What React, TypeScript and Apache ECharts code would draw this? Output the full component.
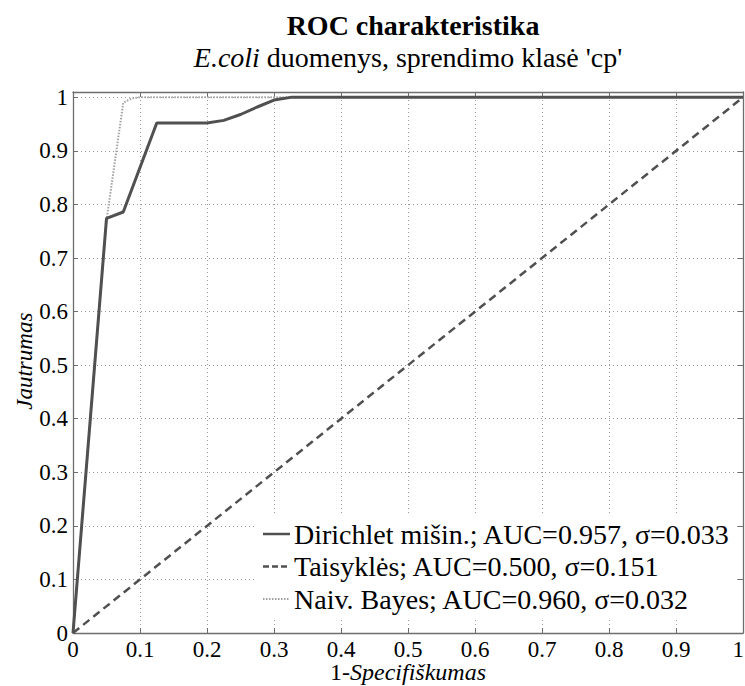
import React, { useEffect, useRef } from "react";
import * as echarts from "echarts";

// Dirichlet mixture ROC curve
const dirFpr = [0, 0.05, 0.075, 0.1, 0.125, 0.2, 0.225, 0.25, 0.275, 0.3, 0.325, 1];
const dirTpr = [0, 0.774, 0.786, 0.869, 0.952, 0.952, 0.957, 0.968, 0.982, 0.995, 1, 1];
// Rules (diagonal)
const ruleFpr = [0, 1];
const ruleTpr = [0, 1];
// Naive Bayes ROC curve
const nbFpr = [0, 0.05, 0.075, 0.0875, 0.1, 1];
const nbTpr = [0, 0.77, 0.99, 0.998, 1, 1];

const seriesNames = [
  "Dirichlet mišin.; AUC=0.957, σ=0.033",
  "Taisyklės; AUC=0.500, σ=0.151",
  "Naiv. Bayes; AUC=0.960, σ=0.032",
];

const tickValues = [0, 0.1, 0.2, 0.3, 0.4, 0.5, 0.6, 0.7, 0.8, 0.9, 1];
const tickLabels = ["0", "0.1", "0.2", "0.3", "0.4", "0.5", "0.6", "0.7", "0.8", "0.9", "1"];

const titleText = "ROC charakteristika";
const subtitleItalic = "E.coli";
const subtitleRest = "duomenys, sprendimo klasė 'cp'";
const xNamePlain = "1-";
const xNameItalic = "Specifiškumas";
const yName = "Jautrumas";

const zip = (xs: number[], ys: number[]) => xs.map((x, i) => [x, ys[i]]);

const FONT = "Liberation Serif";

export default function App() {
  const ref = useRef<HTMLDivElement>(null);
  useEffect(() => {
    if (!ref.current) return;
    const chart = echarts.init(ref.current, undefined, { renderer: "svg" });
    const axisColor = "#6e6e6e";
    const lineColors = ["#505050", "#505050", "#a0a0a0"];
    const lineWidths = [3, 2.5, 2];
    const lineTypes: any[] = ["solid", [8, 5], [1.5, 1.5]];
    const baseX = { type: "value", min: 0, max: 1, interval: 0.1 };
    const baseY = { type: "value", min: 0, max: 1.01, interval: 0.1 };
    const axisCommon = {
      axisLine: { show: true, onZero: false, lineStyle: { color: axisColor, width: 1.3 } },
      axisTick: { show: true, inside: true, length: 5, lineStyle: { color: axisColor } },
      axisLabel: { show: false },
    };
    const gridLine = { show: true, lineStyle: { color: "#9a9a9a", width: 1, type: [1, 3] } };
    chart.setOption({
      animation: false,
      backgroundColor: "#ffffff",
      title: {
        text: titleText,
        left: 408,
        textAlign: "center",
        top: 6,
        textStyle: { fontFamily: FONT, fontSize: 28, fontWeight: "bold", color: "#000" },
      },
      grid: { left: 73, right: 2, top: 92, bottom: 53 },
      xAxis: [
        { ...baseX, position: "bottom", ...axisCommon, splitLine: gridLine },
        { ...baseX, position: "top", ...axisCommon, splitLine: { show: false } },
      ],
      yAxis: [
        { ...baseY, position: "left", ...axisCommon, splitLine: gridLine },
        { ...baseY, position: "right", ...axisCommon, splitLine: { show: false } },
      ],
      series: [
        { data: zip(dirFpr, dirTpr), z: 3 },
        { data: zip(ruleFpr, ruleTpr), z: 3 },
        { data: zip(nbFpr, nbTpr), z: 2 },
      ].map((s, i) => ({
        name: seriesNames[i],
        type: "line",
        data: s.data,
        symbol: "none",
        color: lineColors[i],
        lineStyle: { color: lineColors[i], width: lineWidths[i], type: lineTypes[i] },
        z: s.z,
      })),
    });

    // text measuring (for composing mixed italic / upright texts)
    const canvas = document.createElement("canvas");
    const ctx = canvas.getContext("2d") as CanvasRenderingContext2D;
    const measure = (t: string, size: number, italic: boolean) => {
      ctx.font = (italic ? "italic " : "") + size + "px '" + FONT + "'";
      return ctx.measureText(t).width;
    };
    const txt = (x: number, y: number, text: string, size: number, opts: any = {}) => ({
      type: "text",
      x,
      y,
      z: 10,
      rotation: opts.rotation || 0,
      style: {
        text,
        fontFamily: FONT,
        fontSize: size,
        fontStyle: opts.italic ? "italic" : "normal",
        fontWeight: "normal",
        fill: "#000",
        align: opts.align || "left",
        verticalAlign: opts.valign || "middle",
        textAlign: opts.align || "left",
        textVerticalAlign: opts.valign || "middle",
      },
    });

    const px = (v: number) => chart.convertToPixel({ xAxisIndex: 0 }, v) as number;
    const py = (v: number) => chart.convertToPixel({ yAxisIndex: 0 }, v) as number;
    const xL = px(0);
    const xR = px(1);
    const yB = py(0);
    const yT = py(1);
    const xMid = (xL + xR) / 2;
    const yMid = (yB + yT) / 2;
    const W = 745;

    const els: any[] = [];
    // tick labels
    tickValues.forEach((v, i) => {
      const half = measure(tickLabels[i], 23, false) / 2;
      const cx = Math.min(px(v), W - half - 1);
      els.push(txt(cx, yB + 5, tickLabels[i], 23, { align: "center", valign: "top" }));
      els.push(txt(xL - 5, py(v), tickLabels[i], 23, { align: "right", valign: "middle" }));
    });
    // subtitle
    const sw1 = measure(subtitleItalic, 28, true);
    const sws = measure(" ", 28, false);
    const sw2 = measure(subtitleRest, 28, false);
    const sx = 408 - (sw1 + sws + sw2) / 2;
    els.push(txt(sx, 57, subtitleItalic, 28, { italic: true }));
    els.push(txt(sx + sw1 + sws, 57, subtitleRest, 28));
    // x axis name
    const xw1 = measure(xNamePlain, 24, false);
    const xw2 = measure(xNameItalic, 24, true);
    const xs = xMid - (xw1 + xw2) / 2;
    els.push(txt(xs, yB + 39, xNamePlain, 24));
    els.push(txt(xs + xw1, yB + 39, xNameItalic, 24, { italic: true }));
    // y axis name
    els.push(txt(24, yMid - 4, yName, 23, { italic: true, align: "center", rotation: Math.PI / 2 }));

    // legend
    const legRows = [534, 566.5, 599];
    const legTextX = 294;
    const maxW = Math.max(...seriesNames.map((n) => measure(n, 28, false)));
    els.push({
      type: "rect",
      z: 9,
      shape: { x: 257, y: 516, width: legTextX + maxW + 6 - 257, height: 103 },
      style: { fill: "#ffffff", stroke: null },
    });
    seriesNames.forEach((n, i) => {
      const lt = lineTypes[i];
      els.push({
        type: "line",
        z: 10,
        shape: { x1: 263, y1: legRows[i], x2: 290, y2: legRows[i] },
        style: {
          stroke: lineColors[i],
          lineWidth: i === 0 ? 2.5 : lineWidths[i],
          lineDash: Array.isArray(lt) ? (i === 1 ? [6, 3] : lt) : null,
        },
      });
      els.push(txt(legTextX, legRows[i], n, 28));
    });

    chart.setOption({ graphic: els });
    return () => chart.dispose();
  }, []);
  return (
    <div
      ref={ref}
      style={{ position: "fixed", left: 0, top: 0, width: 745, height: 686, background: "#fff" }}
    />
  );
}
